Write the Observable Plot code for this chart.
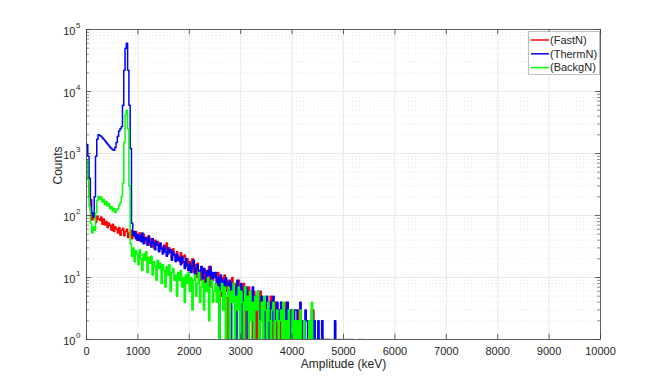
<!DOCTYPE html>
<html>
<head>
<meta charset="utf-8">
<script src="https://cdn.jsdelivr.net/npm/d3@7"></script>
<script src="https://cdn.jsdelivr.net/npm/@observablehq/plot@0.6"></script>
<style>
  html, body { margin: 0; padding: 0; background: #fff; }
  #chart { width: 664px; height: 382px; }
</style>
</head>
<body>
<div id="chart"></div>
<script>
// Bin width of the spectra (keV); each array entry is the count of one bin, starting at 0 keV
const binWidth = 25;

const fastN = [
  750, 420, 200, 120, 85, 105, 92, 78, 98, 88,
  84, 95, 72, 88, 70, 80, 64, 76, 69, 58,
  72, 55, 66, 61, 52, 64, 48, 58, 62, 47,
  55, 60, 44, 52, 58, 42, 50, 46, 55, 40,
  48, 52, 38, 45, 50, 36, 44, 40, 47, 33,
  42, 36, 30, 40, 34, 38, 27, 35, 31, 25,
  33, 28, 36, 24, 30, 27, 21, 29, 24, 19,
  26, 22, 18, 25, 17, 21, 23, 15, 20, 13,
  18, 14, 20, 12, 16, 10, 17, 13, 9, 15,
  11, 14, 8, 13, 10, 15, 7, 12, 9, 11,
  11, 7, 12, 9, 5, 10, 8, 11, 6, 9,
  0, 8, 7, 10, 5, 8, 0, 7, 9, 4,
  7, 5, 8, 0, 6, 4, 7, 3, 5, 0,
  6, 4, 0, 5, 3, 6, 2, 0, 4, 3,
  0, 4, 2, 5, 0, 3, 2, 4, 0, 3,
  2, 0, 3, 2, 0, 4, 1, 0, 2, 3,
  0, 2, 1, 0, 3, 0, 2, 0, 1, 2,
  0, 1, 0, 2, 0, 0, 3, 0, 1, 0,
  0, 1, 0, 0, 1, 0, 0, 1, 0, 0,
  0, 0, 1, 0, 0, 0, 0, 0, 1, 0,
  0, 0, 0, 1, 0, 0, 0, 0, 0, 0,
  0, 0, 0, 0, 0, 1, 0, 0, 0, 0
];

const thermN = [
  1400, 900, 400, 180, 110, 95, 200, 900, 1700, 2000,
  1950, 1900, 1800, 1700, 1600, 1500, 1420, 1340, 1260, 1200,
  1150, 1130, 1250, 1500, 1900, 2300, 2500, 2700, 6000, 22000,
  50000, 60000, 22000, 6000, 1200, 75, 48, 55, 42, 50,
  40, 47, 38, 52, 35, 44, 41, 33, 46, 37,
  31, 42, 35, 28, 38, 33, 26, 36, 29, 24,
  32, 26, 22, 30, 25, 28, 19, 26, 23, 18,
  24, 19, 21, 16, 22, 18, 14, 20, 16, 13,
  17, 12, 15, 19, 11, 14, 16, 10, 13, 15,
  9, 14, 12, 8, 13, 11, 15, 7, 12, 10,
  12, 8, 10, 0, 11, 7, 9, 5, 10, 8,
  6, 9, 0, 8, 5, 7, 0, 9, 4, 6,
  8, 0, 6, 5, 7, 0, 4, 6, 3, 7,
  0, 5, 4, 6, 0, 3, 5, 2, 4, 0,
  5, 3, 0, 4, 2, 5, 0, 3, 4, 0,
  3, 4, 0, 2, 3, 0, 4, 2, 0, 3,
  2, 0, 3, 3, 0, 2, 4, 0, 2, 0,
  3, 2, 0, 2, 0, 3, 0, 2, 1, 0,
  2, 0, 0, 2, 0, 1, 0, 0, 1, 0,
  0, 0, 0, 2, 0, 0, 1, 0, 0, 0,
  0, 1, 0, 0, 0, 0, 1, 0, 0, 0,
  0, 0, 1, 0, 0, 0, 0, 0, 0, 0
];

const backgN = [
  800, 380, 140, 75, 52, 65, 58, 110, 175, 205,
  185, 198, 165, 180, 150, 168, 142, 155, 128, 138,
  118, 130, 112, 122, 128, 145, 160, 200, 330, 1500,
  4200, 5000, 2500, 300, 35, 22, 30, 18, 27, 24,
  16, 28, 20, 13, 24, 19, 26, 12, 21, 17,
  22, 11, 18, 15, 9, 19, 14, 17, 8, 16,
  13, 7, 15, 11, 16, 6, 12, 14, 9, 11,
  5, 12, 9, 13, 7, 10, 4, 11, 8, 12,
  6, 10, 3, 9, 11, 5, 8, 12, 4, 7,
  9, 3, 8, 6, 10, 2, 7, 9, 4, 6,
  8, 4, 7, 0, 6, 8, 3, 7, 0, 5,
  7, 0, 6, 4, 8, 0, 5, 3, 7, 0,
  6, 4, 0, 7, 3, 5, 0, 6, 2, 4,
  0, 5, 3, 6, 0, 2, 4, 0, 5, 3,
  0, 4, 2, 0, 3, 4, 0, 2, 3, 0,
  2, 3, 0, 4, 0, 2, 0, 3, 1, 0,
  3, 0, 2, 0, 2, 0, 3, 0, 0, 2,
  0, 1, 0, 2, 0, 4, 0, 0, 1, 0,
  0, 0, 1, 0, 0, 0, 0, 1, 0, 0,
  1, 0, 0, 0, 0, 0, 1, 0, 0, 0,
  0, 0, 0, 0, 1, 0, 0, 0, 0, 0,
  0, 0, 0, 0, 0, 0, 0, 0, 0, 0
];

const seriesNames = ["(FastN)", "(ThermN)", "(BackgN)"];
const seriesColors = ["#ff0000", "#0000ff", "#00ff00"];
const xTicks = [0, 1000, 2000, 3000, 4000, 5000, 6000, 7000, 8000, 9000, 10000];
const yDecades = [1, 10, 100, 1000, 10000, 100000];

// ---- build table ----
const seriesArrays = [fastN, thermN, backgN];
const zeroLevel = 0.3; // zero counts fall below the log axis (clipped)
const table = seriesArrays.map((arr, s) =>
  arr.map((c, i) => ({E: i * binWidth, count: c === 0 ? zeroLevel : c, series: seriesNames[s]}))
);
const minorY = [];
for (const d of yDecades.slice(0, -1)) for (let k = 2; k <= 9; k++) minorY.push(d * k);

const axisColor = "#404040";
const font = "'Liberation Sans', Arial, Helvetica, sans-serif";

const chart = Plot.plot({
  width: 664,
  height: 382,
  marginLeft: 86,
  marginRight: 64,
  marginTop: 29,
  marginBottom: 43,
  style: {fontFamily: font, background: "#fff", color: "#262626"},
  x: {domain: [0, 10000], axis: null},
  y: {type: "log", domain: [1, 100000], axis: null},
  marks: [
    // minor grid (dotted)
    Plot.ruleY(minorY, {stroke: "#d4d4d4", strokeWidth: 0.6, strokeDasharray: "1,2.5"}),
    // major grid
    Plot.ruleY(yDecades, {stroke: "#e3e3e3", strokeWidth: 0.8}),
    Plot.ruleX(xTicks, {stroke: "#e3e3e3", strokeWidth: 0.8}),
    // spectra
    ...table.map((rows, s) => Plot.lineY(rows, {
      x: "E", y: "count", stroke: seriesColors[s], strokeWidth: 1.5,
      curve: "step-after", clip: true
    })),
    // frame
    Plot.frame({stroke: axisColor, strokeWidth: 0.8}),
    // inward ticks bottom/top
    Plot.ruleX(xTicks, {y1: 1, y2: 1.21, stroke: axisColor, strokeWidth: 0.8}),
    Plot.ruleX(xTicks, {y1: 100000, y2: 100000 / 1.21, stroke: axisColor, strokeWidth: 0.8}),
    // inward ticks left/right (major and minor)
    Plot.ruleY(yDecades, {x1: 0, x2: 97, stroke: axisColor, strokeWidth: 0.8}),
    Plot.ruleY(yDecades, {x1: 10000, x2: 9903, stroke: axisColor, strokeWidth: 0.8}),
    Plot.ruleY(minorY, {x1: 0, x2: 58, stroke: axisColor, strokeWidth: 0.6}),
    Plot.ruleY(minorY, {x1: 10000, x2: 9942, stroke: axisColor, strokeWidth: 0.6}),
    // x tick labels
    Plot.text(xTicks, {x: d => d, y: 1, dy: 12, text: d => String(d), fontSize: 11, fill: "#262626"}),
    // y tick labels 10^n
    Plot.text(yDecades, {x: 0, y: d => d, dx: -11, dy: 2, text: () => "10", textAnchor: "end", fontSize: 11, fill: "#262626"}),
    Plot.text(yDecades, {x: 0, y: d => d, dx: -10.5, dy: -4, text: d => String(Math.round(Math.log10(d))), textAnchor: "start", fontSize: 8, fill: "#262626"}),
    // axis titles
    Plot.text(["Amplitude (keV)"], {frameAnchor: "bottom", dy: 28, text: d => d, fontSize: 12, fill: "#262626"}),
    Plot.text(["Counts"], {frameAnchor: "left", dx: -28, rotate: -90, text: d => d, fontSize: 12, fill: "#262626"})
  ]
});

// ---- legend box (upper right, inside the axes) ----
const svg = d3.select(chart);
const lg = svg.append("g").attr("font-family", font).attr("font-size", 11).attr("text-anchor", "start");
lg.append("rect").attr("x", 528.5).attr("y", 31.5).attr("width", 71).attr("height", 43)
  .attr("fill", "#fff").attr("stroke", "#b0b0b0").attr("stroke-width", 0.8);
seriesNames.forEach((name, i) => {
  const y = 40 + i * 13.8;
  lg.append("line").attr("x1", 531).attr("x2", 549).attr("y1", y).attr("y2", y)
    .attr("stroke", seriesColors[i]).attr("stroke-width", 1.5);
  lg.append("text").attr("x", 550).attr("y", y).attr("dy", "0.35em")
    .attr("text-anchor", "start").attr("fill", "#262626").text(name);
});

document.getElementById("chart").appendChild(chart);
</script>
</body>
</html>
